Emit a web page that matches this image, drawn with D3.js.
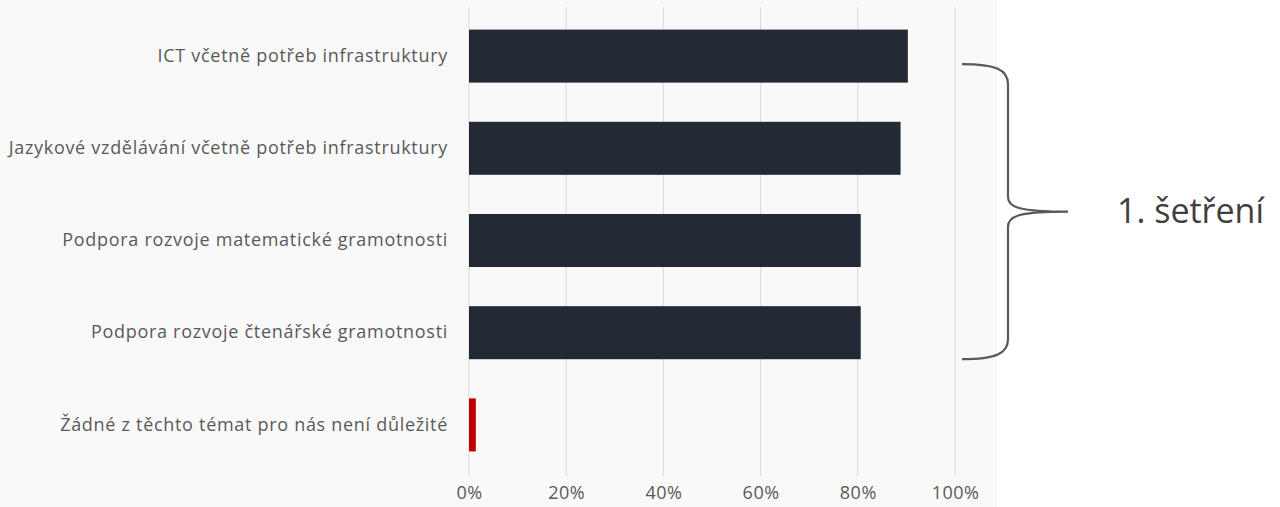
<!DOCTYPE html>
<html>
<head>
<meta charset="utf-8">
<script src="https://cdn.jsdelivr.net/npm/d3@7"></script>
<style>
  body { margin:0; background:#ffffff; }
  svg text { font-family:"Open Sans", sans-serif; }
</style>
</head>
<body>
<svg id="chart" width="1280" height="507"></svg>
<script>
// categories, top to bottom
var categories = [
    "ICT včetně potřeb infrastruktury",
    "Jazykové vzdělávání včetně potřeb infrastruktury",
    "Podpora rozvoje matematické gramotnosti",
    "Podpora rozvoje čtenářské gramotnosti",
    "Žádné z těchto témat pro nás není důležité"
];
// share of schools (%)
var values = [90.3, 88.8, 80.6, 80.6, 1.4];
var barColors = ["#222a35", "#222a35", "#222a35", "#222a35", "#c00000"];
var tickValues = [0, 20, 40, 60, 80, 100];
var braceLabel = "1. šetření";

var svg = d3.select("#chart");

//plot area background
svg.append("rect")
    .attr("x", 0).attr("y", 0)
    .attr("width", 997).attr("height", 507)
    .attr("fill", "#f9f9f9");

var xScale = d3.scaleLinear()
    .domain([0, 100])
    .range([469, 955]);

var yScale = d3.scaleBand()
    .domain(categories)
    .range([10, 471])
    .paddingInner(0.425)
    .paddingOuter(0.2125);

//gridlines
svg.append("g")
    .selectAll("line")
    .data(tickValues)
    .enter()
    .append("line")
    .attr("x1", function(d){ return xScale(d); })
    .attr("x2", function(d){ return xScale(d); })
    .attr("y1", 7)
    .attr("y2", 476)
    .attr("stroke", "#d9d9d9")
    .attr("stroke-width", 1);

//x axis labels
var xAxis = d3.axisBottom(xScale)
    .tickValues(tickValues)
    .tickSize(0)
    .tickPadding(0)
    .tickFormat(function(d){ return d + "%"; });

var xg = svg.append("g")
    .attr("transform", "translate(0,486)")
    .call(xAxis);
xg.select(".domain").remove();
xg.selectAll("text")
    .attr("fill", "#595959")
    .style("font-size", "18px")
    .style("letter-spacing", "0.5px");

//bars
svg.append("g")
    .selectAll("rect")
    .data(values)
    .enter()
    .append("rect")
    .attr("x", xScale(0))
    .attr("y", function(d, i){ return yScale(categories[i]); })
    .attr("width", function(d){ return xScale(d) - xScale(0); })
    .attr("height", yScale.bandwidth())
    .attr("fill", function(d, i){ return barColors[i]; });

//category labels
var yAxis = d3.axisLeft(yScale)
    .tickSize(0)
    .tickPadding(21);

var yg = svg.append("g")
    .attr("transform", "translate(" + xScale(0) + ",0)")
    .call(yAxis);
yg.select(".domain").remove();
yg.selectAll("text")
    .attr("fill", "#595959")
    .style("font-size", "18px")
    .style("letter-spacing", "0.7px");

//curly brace over the first four bars
var braceTop = yScale(categories[0]) + yScale.bandwidth() * 0.65;
var braceBot = yScale(categories[3]) + yScale.bandwidth() * 1.0;
var braceMid = (braceTop + braceBot) / 2;
var bx = 962, vx = 1008, tx = 1068, rEnd = 20, rMid = 15;
var brace = d3.path();
brace.moveTo(bx, braceTop);
brace.bezierCurveTo(vx - 12, braceTop, vx, braceTop + 6, vx, braceTop + rEnd);
brace.lineTo(vx, braceMid - rMid);
brace.bezierCurveTo(vx, braceMid - 4, vx + 12, braceMid, tx, braceMid);
brace.moveTo(tx, braceMid);
brace.bezierCurveTo(vx + 12, braceMid, vx, braceMid + 4, vx, braceMid + rMid);
brace.lineTo(vx, braceBot - rEnd);
brace.bezierCurveTo(vx, braceBot - 6, vx - 12, braceBot, bx, braceBot);

svg.append("path")
    .attr("d", brace.toString())
    .attr("fill", "none")
    .attr("stroke", "#595959")
    .attr("stroke-width", 2.2);

svg.append("text")
    .attr("x", 1117)
    .attr("y", braceMid + 11)
    .attr("fill", "#404040")
    .style("font-size", "34px")
    .text(braceLabel);
</script>
</body>
</html>
